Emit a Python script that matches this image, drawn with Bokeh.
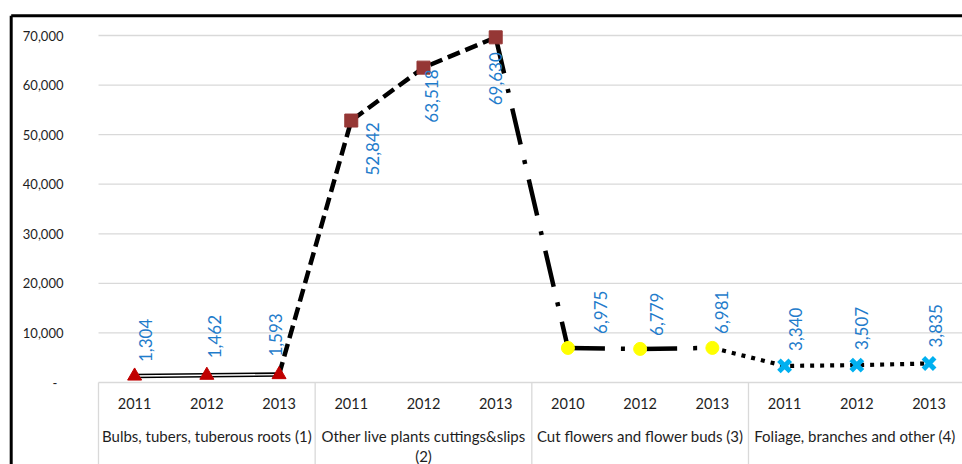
import math
from bokeh.plotting import figure
from bokeh.models import Range1d
from bokeh.core.properties import value
from bokeh.embed import file_html
from bokeh.resources import INLINE

# ---------------- data ----------------
groups = ["Bulbs, tubers, tuberous roots (1)",
          "Other live plants cuttings&slips",
          "Cut flowers and flower buds (3)",
          "Foliage, branches and other  (4)"]
group_second_line = ["", "(2)", "", ""]
years = ["2011", "2012", "2013",
         "2011", "2012", "2013",
         "2010", "2012", "2013",
         "2011", "2012", "2013"]
values = [1304, 1462, 1593,
          52842, 63518, 69630,
          6975, 6779, 6981,
          3340, 3507, 3835]
y_ticks = [0, 10000, 20000, 30000, 40000, 50000, 60000, 70000]

# ---------------- layout helpers ----------------
W, H = 962, 464
CAT_PX = 72.22              # pixel width of one category
X0_PX = 98.0                # canvas x of category axis start
PX_PER_V = 347.0 / 70000.0  # pixels per unit value
Y0_PX = 382.0               # canvas y of value 0

x_start = -X0_PX / CAT_PX
x_end = (W - X0_PX) / CAT_PX
y_end = Y0_PX / PX_PER_V
y_start = -(H - Y0_PX) / PX_PER_V


def dx(px):
    return px / CAT_PX


def dy(px):  # px upward
    return px / PX_PER_V


p = figure(width=W, height=H, output_backend="svg", toolbar_location=None,
           x_range=Range1d(x_start, x_end), y_range=Range1d(y_start, y_end),
           min_border=0, min_border_left=0, min_border_right=0,
           min_border_top=0, min_border_bottom=0)
p.axis.visible = False
p.grid.visible = False
p.outline_line_color = None
p.background_fill_color = "white"
p.border_fill_color = "white"

FONT = value("Lato")
TXT = "#1E1E1E"
n = len(values)
xs = [i + 0.5 for i in range(n)]

# gridlines
grid_color = "#D9D9D9"
p.segment(x0=[0] * len(y_ticks), x1=[n + 0.5] * len(y_ticks), y0=y_ticks, y1=y_ticks,
          line_color=grid_color, line_width=1.3)

# category separators
sep_x = [0, 3, 6, 9, 12]
p.segment(x0=sep_x, x1=sep_x, y0=[0] * 5, y1=[y_start] * 5,
          line_color=grid_color, line_width=1.3)

# y tick labels
tick_text = ["-" if t == 0 else f"{t:,}" for t in y_ticks]
tick_x = [(-0.485 if t else -0.57) for t in y_ticks]
p.text(x=tick_x, y=y_ticks, text=tick_text, text_font=FONT, text_font_size="13px",
       text_color=TXT, text_align="right", text_baseline="middle")

# year labels
p.text(x=xs, y=[dy(-21)] * n, text=years, text_font=FONT, text_font_size="14.5px",
       text_color=TXT, text_align="center", text_baseline="middle")

# group labels
gx = [1.5, 4.5, 7.5, 10.5]
p.text(x=gx, y=[dy(-53)] * 4, text=groups, text_font=FONT, text_font_size="15px",
       text_color=TXT, text_align="center", text_baseline="middle")
p.text(x=gx, y=[dy(-73)] * 4, text=group_second_line, text_font=FONT,
       text_font_size="15px", text_color=TXT, text_align="center",
       text_baseline="middle")

# ---------------- lines ----------------
# double (compound) line, points 1-3
p.line(xs[0:3], values[0:3], line_color="black", line_width=4.5)
p.line(xs[0:3], values[0:3], line_color="white", line_width=1.4)
# dashed, points 3-6
p.line(xs[2:6], values[2:6], line_color="black", line_width=4.5, line_dash="13 6")
# long dash dot, each segment restarting
for a in (5, 6, 7):
    p.line(xs[a:a + 2], values[a:a + 2], line_color="black", line_width=4.5,
           line_dash="37 16 4 16")
# round dots, points 9-12
p.line(xs[8:12], values[8:12], line_color="black", line_width=4.2,
       line_dash="4 6")

# ---------------- markers ----------------
p.scatter(xs[0:3], values[0:3], marker="triangle", size=14,
          fill_color="#C00000", line_color="#C00000")
p.scatter(xs[3:6], values[3:6], marker="square", size=13,
          fill_color="#953735", line_color="#953735")
p.scatter(xs[6:9], values[6:9], marker="circle", size=13,
          fill_color="#FFFF00", line_color="#FFFF00")
p.scatter(xs[9:12], values[9:12], marker="x", size=16,
          line_color="#00B0F0", line_width=5)

# ---------------- data labels ----------------
label_dx = [11, 8, -4, 21, 8, 0, 33, 16, 9, 11, 5, 6]
label_dy = [-14, -17, -18, 55, 55, 68, -14, -13, -14, -15, -15, -16]
lx = [xs[i] + dx(label_dx[i]) for i in range(n)]
ly = [values[i] - dy(label_dy[i]) for i in range(n)]
p.text(x=lx, y=ly, text=[f"{v:,}" for v in values], angle=math.pi / 2,
       text_font=FONT, text_font_size="17px", text_color="#1F7CCB",
       text_align="left", text_baseline="middle")

# ---------------- chart border (top and left) ----------------
bx = dx(10.7 - X0_PX)
by = dy(Y0_PX - 15.2)
p.segment(x0=[bx, bx], y0=[by, by], x1=[x_end + 1, bx], y1=[by, y_start - 1000],
          line_color="black", line_width=3)

open("out.html", "w").write(file_html(p, INLINE))
